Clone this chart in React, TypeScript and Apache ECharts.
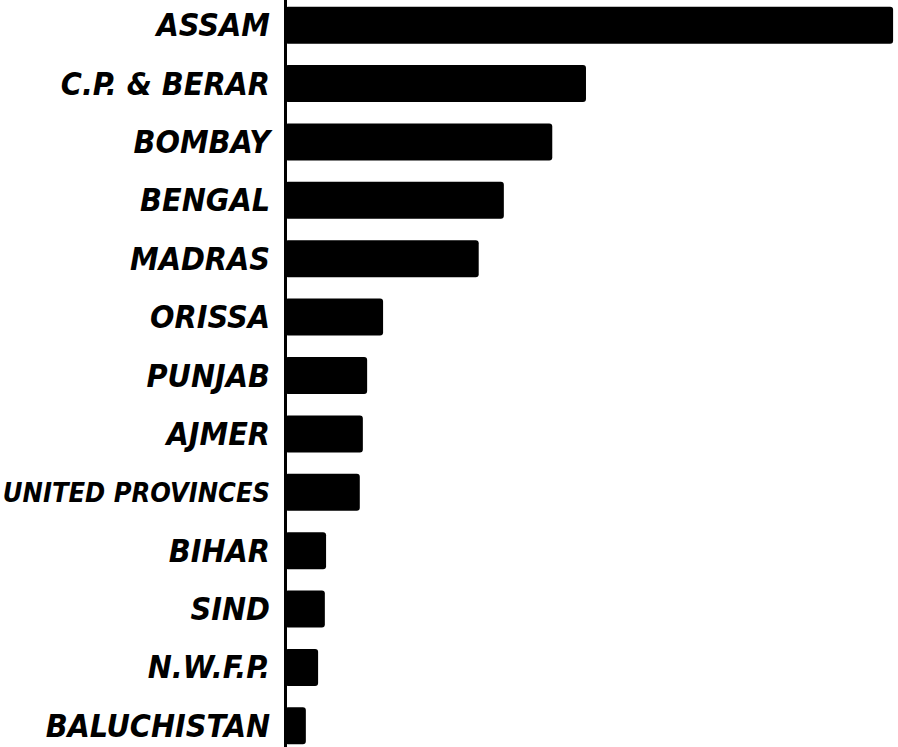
import React, { useEffect, useRef } from "react";
import * as echarts from "echarts";

const categories = [
  "ASSAM",
  "C.P. & BERAR",
  "BOMBAY",
  "BENGAL",
  "MADRAS",
  "ORISSA",
  "PUNJAB",
  "AJMER",
  "UNITED PROVINCES",
  "BIHAR",
  "SIND",
  "N.W.F.P.",
  "BALUCHISTAN",
];

const values = [99.2, 49.1, 43.6, 35.7, 31.6, 16.0, 13.4, 12.7, 12.2, 6.7, 6.5, 5.4, 3.4];

const labelFont = {
  color: "#000",
  fontFamily: "'DejaVu Sans Condensed', 'DejaVu Sans', sans-serif",
  fontStyle: "italic",
  fontWeight: "bold",
};

export default function App() {
  const ref = useRef<HTMLDivElement>(null);
  useEffect(() => {
    if (!ref.current) return;
    const chart = echarts.init(ref.current, undefined, { renderer: "svg" });
    chart.setOption({
      animation: false,
      backgroundColor: "#ffffff",
      grid: {
        left: 285,
        right: 0,
        top: -4,
        bottom: -8,
        containLabel: false,
        outerBoundsMode: "none",
      },
      xAxis: {
        type: "value",
        min: 0,
        max: 100,
        show: false,
      },
      yAxis: {
        type: "category",
        data: categories,
        inverse: true,
        axisLine: { show: true, lineStyle: { color: "#000", width: 3 } },
        axisTick: { show: false },
        splitLine: { show: false },
        axisLabel: {
          ...labelFont,
          fontSize: 32,
          margin: 15,
          formatter: (v: string) => (v.length > 14 ? `{s|${v}}` : `{n|${v}}`),
          rich: {
            n: { ...labelFont, fontSize: 32 },
            s: { ...labelFont, fontSize: 27 },
          },
        },
      },
      series: [
        {
          type: "bar",
          data: values,
          barWidth: 37,
          itemStyle: { color: "#000", borderRadius: 3 },
        },
      ],
    });
    return () => chart.dispose();
  }, []);
  return (
    <div
      ref={ref}
      style={{ position: "fixed", left: 0, top: 0, width: 898, height: 747 }}
    />
  );
}
